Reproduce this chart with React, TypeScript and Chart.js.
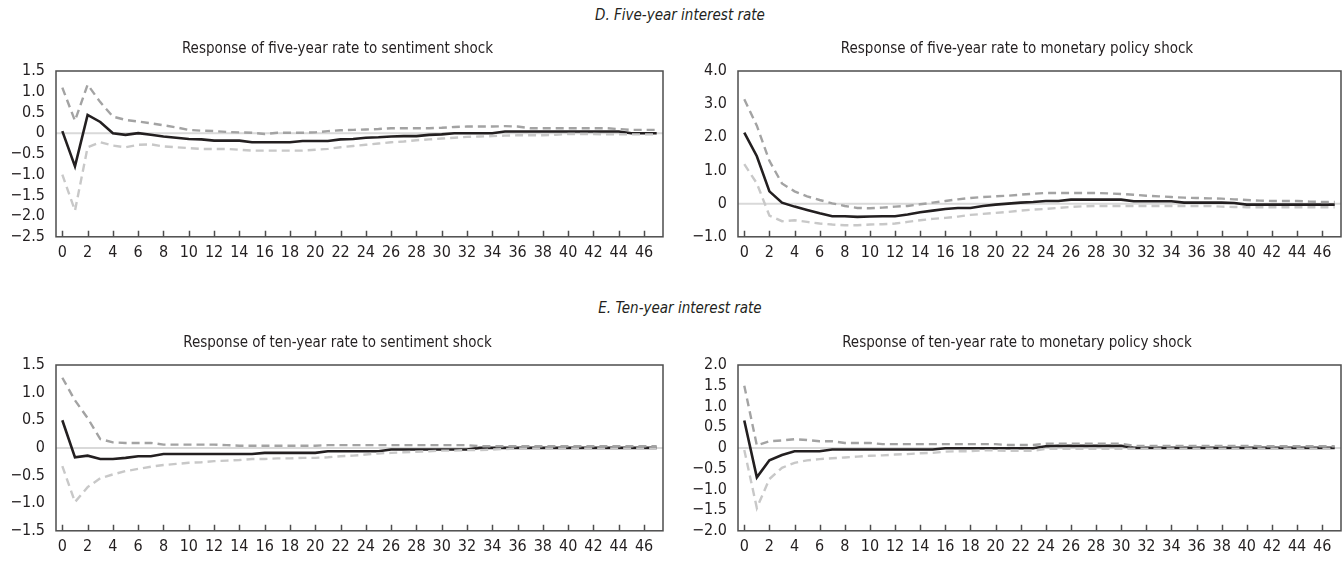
import React, { useEffect, useRef } from 'react';
import { Chart, registerables } from 'chart.js';

Chart.register(...registerables);

const FONT = '"Liberation Sans Narrow", "DejaVu Sans Condensed", "Arial Narrow", sans-serif';
const TEXT = '#231f20';
const MID_COLOR = '#231f20';
const UPPER_COLOR = '#a3a3a3';
const LOWER_COLOR = '#c8c8c8';

// Horizons 0..47
const horizons: string[] = Array.from({ length: 48 }, (_, i) => String(i));

// D. Five-year rate, sentiment shock
const fiveSentMid = [
  0.05, -0.8, 0.44, 0.27, 0.0, -0.04, 0.0, -0.04, -0.08, -0.11, -0.14, -0.15,
  -0.18, -0.18, -0.18, -0.22, -0.22, -0.22, -0.22, -0.19, -0.19, -0.19, -0.15, -0.14,
  -0.11, -0.1, -0.08, -0.07, -0.07, -0.04, -0.03, 0.0, 0.0, 0.0, 0.0, 0.04,
  0.04, 0.04, 0.04, 0.04, 0.04, 0.04, 0.04, 0.04, 0.04, 0.0, 0.0, 0.0,
];
const fiveSentUpper = [
  1.1, 0.3, 1.17, 0.75, 0.4, 0.32, 0.28, 0.24, 0.19, 0.14, 0.08, 0.06,
  0.05, 0.03, 0.02, 0.01, -0.02, 0.01, 0.01, 0.01, 0.02, 0.05, 0.07, 0.08,
  0.09, 0.1, 0.12, 0.12, 0.12, 0.12, 0.13, 0.15, 0.16, 0.16, 0.16, 0.17,
  0.16, 0.12, 0.12, 0.12, 0.12, 0.12, 0.12, 0.12, 0.1, 0.08, 0.08, 0.08,
];
const fiveSentLower = [
  -1.0, -1.87, -0.34, -0.22, -0.3, -0.34, -0.28, -0.27, -0.32, -0.34, -0.36, -0.38,
  -0.38, -0.38, -0.4, -0.42, -0.42, -0.42, -0.42, -0.42, -0.4, -0.38, -0.34, -0.31,
  -0.28, -0.25, -0.22, -0.2, -0.17, -0.15, -0.13, -0.11, -0.09, -0.08, -0.07, -0.06,
  -0.05, -0.05, -0.05, -0.04, -0.02, -0.02, -0.02, -0.03, -0.03, -0.03, -0.03, -0.03,
];

// D. Five-year rate, monetary policy shock
const fiveMonMid = [
  2.14, 1.43, 0.37, 0.03, -0.09, -0.19, -0.29, -0.38, -0.38, -0.4, -0.39, -0.38,
  -0.38, -0.33, -0.26, -0.21, -0.16, -0.13, -0.13, -0.07, -0.03, 0.0, 0.03, 0.05,
  0.08, 0.08, 0.12, 0.12, 0.12, 0.12, 0.12, 0.07, 0.07, 0.07, 0.07, 0.03,
  0.03, 0.03, 0.03, 0.02, -0.03, -0.03, -0.03, -0.03, -0.03, -0.03, -0.03, -0.03,
];
const fiveMonUpper = [
  3.15, 2.35, 1.29, 0.61, 0.37, 0.22, 0.11, 0.01, -0.07, -0.13, -0.14, -0.12,
  -0.09, -0.07, -0.02, 0.03, 0.08, 0.13, 0.17, 0.2, 0.22, 0.24, 0.27, 0.3,
  0.32, 0.32, 0.32, 0.32, 0.32, 0.31, 0.29, 0.27, 0.24, 0.22, 0.2, 0.18,
  0.17, 0.16, 0.15, 0.13, 0.11, 0.09, 0.08, 0.08, 0.08, 0.06, 0.05, 0.05,
];
const fiveMonLower = [
  1.19, 0.61, -0.36, -0.53, -0.5, -0.55, -0.6, -0.63, -0.65, -0.65, -0.63, -0.62,
  -0.6, -0.55, -0.5, -0.46, -0.43, -0.39, -0.34, -0.31, -0.28, -0.25, -0.21, -0.18,
  -0.16, -0.13, -0.1, -0.08, -0.07, -0.07, -0.07, -0.07, -0.07, -0.07, -0.07, -0.07,
  -0.07, -0.07, -0.09, -0.1, -0.11, -0.11, -0.11, -0.11, -0.11, -0.11, -0.11, -0.11,
];

// E. Ten-year rate, sentiment shock
const tenSentMid = [
  0.5, -0.17, -0.14, -0.2, -0.2, -0.18, -0.15, -0.15, -0.11, -0.11, -0.11, -0.11,
  -0.11, -0.11, -0.11, -0.11, -0.09, -0.09, -0.09, -0.09, -0.09, -0.06, -0.06, -0.06,
  -0.06, -0.06, -0.03, -0.03, -0.03, -0.03, -0.03, -0.03, -0.03, 0.0, 0.0, 0.0,
  0.0, 0.0, 0.0, 0.0, 0.0, 0.0, 0.0, 0.0, 0.0, 0.0, 0.0, 0.0,
];
const tenSentUpper = [
  1.27, 0.86, 0.54, 0.16, 0.1, 0.09, 0.09, 0.09, 0.06, 0.06, 0.06, 0.06,
  0.06, 0.05, 0.04, 0.04, 0.04, 0.04, 0.04, 0.04, 0.04, 0.05, 0.05, 0.05,
  0.05, 0.05, 0.05, 0.05, 0.05, 0.05, 0.05, 0.05, 0.05, 0.03, 0.03, 0.03,
  0.03, 0.03, 0.03, 0.03, 0.03, 0.03, 0.03, 0.03, 0.03, 0.03, 0.03, 0.03,
];
const tenSentLower = [
  -0.33, -0.98, -0.71, -0.55, -0.48, -0.42, -0.38, -0.34, -0.31, -0.29, -0.27, -0.26,
  -0.24, -0.23, -0.22, -0.2, -0.2, -0.19, -0.19, -0.18, -0.18, -0.17, -0.15, -0.14,
  -0.12, -0.1, -0.09, -0.08, -0.07, -0.06, -0.05, -0.05, -0.04, -0.04, -0.03, -0.02,
  -0.01, -0.01, -0.01, -0.01, -0.01, -0.01, -0.01, -0.01, -0.01, -0.01, -0.01, -0.01,
];

// E. Ten-year rate, monetary policy shock
const tenMonMid = [
  0.66, -0.71, -0.3, -0.17, -0.08, -0.08, -0.08, -0.04, -0.04, -0.04, -0.04, -0.04,
  -0.04, -0.04, -0.04, -0.04, -0.01, -0.01, -0.01, -0.01, -0.01, -0.01, -0.01, -0.01,
  0.04, 0.05, 0.05, 0.05, 0.05, 0.05, 0.05, 0.0, 0.0, 0.0, 0.0, 0.0,
  0.0, 0.0, 0.0, 0.0, 0.0, 0.0, 0.0, 0.0, 0.0, 0.0, 0.0, 0.0,
];
const tenMonUpper = [
  1.5, 0.06, 0.16, 0.18, 0.21, 0.19, 0.16, 0.16, 0.12, 0.12, 0.12, 0.09,
  0.09, 0.09, 0.09, 0.09, 0.09, 0.09, 0.09, 0.09, 0.09, 0.07, 0.07, 0.07,
  0.1, 0.1, 0.1, 0.1, 0.1, 0.1, 0.1, 0.05, 0.05, 0.05, 0.05, 0.05,
  0.05, 0.05, 0.05, 0.05, 0.05, 0.04, 0.04, 0.04, 0.04, 0.04, 0.04, 0.04,
];
const tenMonLower = [
  -0.05, -1.45, -0.75, -0.48, -0.36, -0.3, -0.27, -0.25, -0.23, -0.21, -0.19, -0.18,
  -0.16, -0.15, -0.13, -0.12, -0.09, -0.08, -0.08, -0.06, -0.06, -0.07, -0.07, -0.07,
  -0.02, -0.02, -0.02, -0.02, -0.02, -0.02, -0.02, -0.02, -0.02, -0.02, -0.02, -0.02,
  -0.02, -0.02, -0.02, -0.02, -0.02, -0.02, -0.02, -0.02, -0.02, -0.02, -0.02, -0.02,
];

const formatTick = (v: number) => (Math.abs(v) < 1e-9 ? '0' : v.toFixed(1).replace('-', '\u2212'));

// Zero line under the data, box frame and short inward x ticks on top
const framePlugin = {
  id: 'irfFrame',
  beforeDatasetsDraw(chart: any) {
    const { ctx, chartArea: a, scales } = chart;
    const y0 = scales.y.getPixelForValue(0);
    ctx.save();
    ctx.strokeStyle = '#d9d9d9';
    ctx.lineWidth = 2;
    ctx.beginPath();
    ctx.moveTo(a.left, y0);
    ctx.lineTo(a.right, y0);
    ctx.stroke();
    ctx.restore();
  },
  afterDatasetsDraw(chart: any) {
    const { ctx, chartArea: a, scales } = chart;
    ctx.save();
    ctx.strokeStyle = '#4d4d4d';
    ctx.lineWidth = 1.5;
    ctx.strokeRect(a.left, a.top, a.right - a.left, a.bottom - a.top);
    ctx.beginPath();
    for (let i = 0; i < horizons.length; i += 2) {
      const x = Math.round(scales.x.getPixelForValue(i)) + 0.5;
      ctx.moveTo(x, a.bottom);
      ctx.lineTo(x, a.bottom - 6);
    }
    ctx.stroke();
    ctx.restore();
  },
};

type PanelProps = {
  title: string;
  mid: number[];
  upper: number[];
  lower: number[];
  min: number;
  max: number;
  step: number;
  padLeft: number;
  yWidth: number;
  padRight: number;
  left: number;
  top: number;
};

const CANVAS_W = 670;
const CANVAS_H = 228;

function Panel(p: PanelProps) {
  const ref = useRef<HTMLCanvasElement>(null);
  useEffect(() => {
    if (!ref.current) return;
    const font = { family: FONT, size: 16, weight: 'normal' as const };
    const titleFont = { family: FONT, size: 15, weight: 'normal' as const };
    const chart = new Chart(ref.current, {
      type: 'line',
      data: {
        labels: horizons,
        datasets: [
          {
            data: p.upper,
            borderColor: UPPER_COLOR,
            borderWidth: 2.4,
            borderDash: [8, 5],
            pointRadius: 0,
            tension: 0,
            fill: false,
          },
          {
            data: p.lower,
            borderColor: LOWER_COLOR,
            borderWidth: 2.4,
            borderDash: [8, 5],
            pointRadius: 0,
            tension: 0,
            fill: false,
          },
          {
            data: p.mid,
            borderColor: MID_COLOR,
            borderWidth: 2.6,
            pointRadius: 0,
            tension: 0,
            fill: false,
          },
        ],
      },
      options: {
        animation: false,
        responsive: false,
        events: [],
        layout: { padding: { left: p.padLeft, right: p.padRight, top: 0, bottom: 0 } },
        plugins: {
          legend: { display: false },
          tooltip: { enabled: false },
          title: {
            display: true,
            text: p.title,
            color: TEXT,
            font: titleFont,
            padding: { top: 0, bottom: 13 },
          },
        },
        scales: {
          x: {
            type: 'category',
            offset: true,
            grid: { display: false, drawTicks: false },
            border: { display: false },
            ticks: {
              autoSkip: false,
              maxRotation: 0,
              padding: 6,
              color: TEXT,
              font,
              callback: (_v: any, i: number) => (i % 2 === 0 ? horizons[i] : ''),
            },
          },
          y: {
            min: p.min,
            max: p.max,
            grid: { display: false, drawTicks: false },
            border: { display: false },
            afterFit: (s: any) => {
              s.width = p.yWidth;
            },
            ticks: {
              stepSize: p.step,
              autoSkip: false,
              padding: 11,
              color: TEXT,
              font,
              callback: (v: any) => formatTick(Number(v)),
            },
          },
        },
      },
      plugins: [framePlugin],
    } as any);
    return () => chart.destroy();
  }, []);
  return (
    <canvas
      ref={ref}
      width={CANVAS_W}
      height={CANVAS_H}
      style={{ position: 'absolute', left: p.left, top: p.top, width: CANVAS_W, height: CANVAS_H }}
    />
  );
}

const sectionStyle = (top: number): React.CSSProperties => ({
  position: 'absolute',
  left: 680,
  top,
  transform: 'translateX(-50%)',
  whiteSpace: 'nowrap',
  fontFamily: FONT,
  fontStyle: 'italic',
  fontSize: 15,
  lineHeight: '20px',
  color: TEXT,
});

export default function App() {
  return (
    <div style={{ position: 'absolute', left: 0, top: 0, width: 1342, height: 570, background: '#fff', overflow: 'hidden' }}>
      <div style={sectionStyle(5)}>D. Five-year interest rate</div>
      <Panel
        title="Response of five-year rate to sentiment shock"
        mid={fiveSentMid}
        upper={fiveSentUpper}
        lower={fiveSentLower}
        min={-2.5}
        max={1.5}
        step={0.5}
        padLeft={12}
        yWidth={44}
        padRight={7}
        left={0}
        top={40}
      />
      <Panel
        title="Response of five-year rate to monetary policy shock"
        mid={fiveMonMid}
        upper={fiveMonUpper}
        lower={fiveMonLower}
        min={-1}
        max={4}
        step={1}
        padLeft={21}
        yWidth={45}
        padRight={1}
        left={672}
        top={40}
      />
      <div style={sectionStyle(298)}>E. Ten-year interest rate</div>
      <Panel
        title="Response of ten-year rate to sentiment shock"
        mid={tenSentMid}
        upper={tenSentUpper}
        lower={tenSentLower}
        min={-1.5}
        max={1.5}
        step={0.5}
        padLeft={12}
        yWidth={44}
        padRight={7}
        left={0}
        top={334}
      />
      <Panel
        title="Response of ten-year rate to monetary policy shock"
        mid={tenMonMid}
        upper={tenMonUpper}
        lower={tenMonLower}
        min={-2}
        max={2}
        step={0.5}
        padLeft={21}
        yWidth={45}
        padRight={1}
        left={672}
        top={334}
      />
    </div>
  );
}
